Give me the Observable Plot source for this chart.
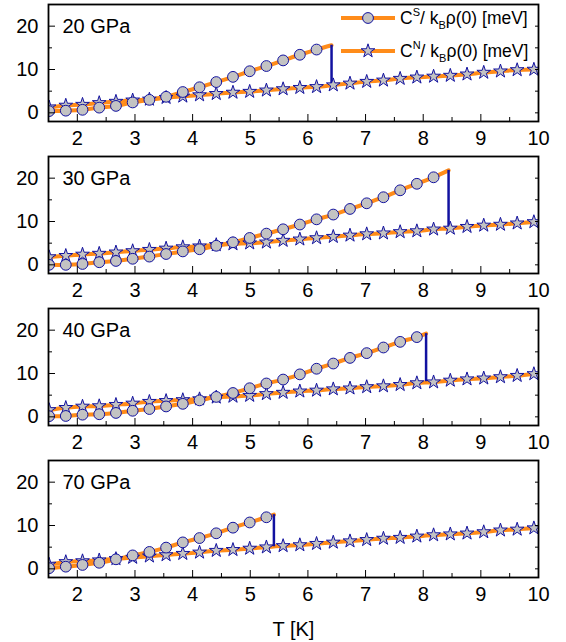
<!DOCTYPE html>
<html>
<head>
<meta charset="utf-8">
<script src="https://cdn.jsdelivr.net/npm/d3@7"></script>
<script src="https://cdn.jsdelivr.net/npm/@observablehq/plot@0.6"></script>
<style>
  html, body { margin: 0; padding: 0; background: #fff; }
  #chart { position: relative; width: 566px; height: 642px; font-family: "Liberation Sans", Arial, sans-serif; }
  #chart svg { display: block; }
  .leg { position: absolute; left: 341px; height: 24px; display: flex; align-items: center; font-size: 17.5px; color: #000; white-space: nowrap; }
  .leg svg { margin-right: 5px; }
  .sup { font-size: 11px; position: relative; top: -8px; }
  .sub { font-size: 11px; position: relative; top: 5px; }
</style>
</head>
<body>
<div id="chart"></div>
<script>
// ---- data ----
const pressures = ["20 GPa", "30 GPa", "40 GPa", "70 GPa"];
const temps = [1.51, 1.80, 2.09, 2.38, 2.67, 2.96, 3.25, 3.54, 3.83, 4.12, 4.41, 4.70, 4.99, 5.28, 5.57,
               5.86, 6.15, 6.44, 6.73, 7.02, 7.31, 7.60, 7.89, 8.18, 8.47, 8.76, 9.05, 9.34, 9.63, 9.92];

const cs20 = [0.4, 0.5, 0.7, 1.2, 1.6, 2.4, 3.0, 3.7, 4.8, 5.9, 7.1, 8.3, 9.6, 10.8, 12.1, 13.4, 14.6];
const cs30 = [0.0, 0.0, 0.2, 0.6, 0.9, 1.4, 1.9, 2.5, 3.1, 3.6, 4.4, 5.2, 6.2, 7.2, 8.2, 9.3, 10.5, 11.6, 12.9, 14.2, 15.6, 17.2, 18.7, 20.2];
const cs40 = [0.15, 0.2, 0.5, 0.6, 0.9, 1.4, 1.8, 2.4, 3.0, 3.8, 4.6, 5.5, 6.6, 7.7, 8.6, 9.8, 11.1, 12.3, 13.6, 14.7, 16.0, 17.3, 18.4];
const cs70 = [0.15, 0.5, 0.9, 1.4, 2.2, 3.1, 3.9, 4.9, 6.1, 7.1, 8.2, 9.5, 10.7, 11.9];

const cn20 = [1.3, 1.7, 1.9, 2.3, 2.6, 2.9, 3.1, 3.5, 3.8, 4.1, 4.4, 4.7, 4.9, 5.2, 5.5, 5.8, 6.0, 6.4, 6.8, 7.2, 7.5, 7.9, 8.2, 8.4, 8.6, 8.9, 9.3, 9.6, 9.9, 10.0];
const cn30 = [1.8, 2.1, 2.4, 2.6, 2.9, 3.2, 3.5, 3.8, 4.1, 4.3, 4.6, 4.8, 5.0, 5.2, 5.6, 5.9, 6.2, 6.5, 6.8, 7.1, 7.3, 7.6, 7.8, 8.2, 8.4, 8.8, 9.1, 9.3, 9.6, 9.9];
const cn40 = [1.6, 2.1, 2.4, 2.5, 2.8, 3.1, 3.5, 3.7, 3.9, 4.1, 4.5, 4.7, 4.9, 5.3, 5.6, 5.9, 6.1, 6.4, 6.6, 6.9, 7.1, 7.4, 7.8, 8.0, 8.4, 8.7, 8.9, 9.2, 9.5, 9.9];
const cn70 = [1.0, 1.6, 1.8, 2.0, 2.3, 2.6, 2.9, 3.2, 3.5, 3.8, 4.2, 4.4, 4.7, 5.0, 5.3, 5.5, 5.8, 6.1, 6.4, 6.7, 7.0, 7.2, 7.5, 7.8, 8.0, 8.2, 8.5, 8.9, 9.1, 9.4];

// transition temperature and jump ends
const tcValues = [6.41, 8.44, 8.05, 5.41];
const csAtTc = [15.6, 21.8, 19.2, 12.5];
const cnAtTc = [6.3, 8.4, 8.1, 5.1];

const xTicks = [2, 3, 4, 5, 6, 7, 8, 9, 10];
const xMinorTicks = [1.5, 2.5, 3.5, 4.5, 5.5, 6.5, 7.5, 8.5, 9.5];
const yTicks = [0, 10, 20];
const yMinorTicks = [5, 15];
const legendLabels = ["C|S|/ k|B|ρ(0) [meV]", "C|N|/ k|B|ρ(0) [meV]"];

// ---- style ----
const ORANGE = "#FF8C1A";
const NAVY = "#1212A0";
const GRAY = "#C3C3C3";

const csSeries = [cs20, cs30, cs40, cs70];
const cnSeries = [cn20, cn30, cn40, cn70];

function panel(i, last) {
  const S = csSeries[i].map((v, j) => ({T: temps[j], v}));
  const N = cnSeries[i].map((v, j) => ({T: temps[j], v}));
  const Sline = S.concat([{T: tcValues[i], v: csAtTc[i]}]);
  const jump = [{T: tcValues[i], y1: cnAtTc[i], y2: csAtTc[i]}];
  return Plot.plot({
    width: 566,
    height: last ? 186 : 152,
    marginTop: 4,
    marginLeft: 48,
    marginRight: 28,
    marginBottom: last ? 65 : 31,
    x: {domain: [1.5, 10]},
    y: {domain: [-2, 25]},
    style: {fontFamily: "'Liberation Sans', Arial, sans-serif", fontSize: "20px", color: "#000", background: "#fff", overflow: "visible"},
    marks: [
      Plot.line(N, {x: "T", y: "v", stroke: ORANGE, strokeWidth: 4, curve: "catmull-rom", clip: true}),
      Plot.line(Sline, {x: "T", y: "v", stroke: ORANGE, strokeWidth: 4, curve: "catmull-rom", clip: true}),
      Plot.ruleX(jump, {x: "T", y1: "y1", y2: "y2", stroke: NAVY, strokeWidth: 2.5}),
      Plot.dot(N, {x: "T", y: "v", symbol: "star", r: 4.3, fill: GRAY, stroke: NAVY, strokeWidth: 1, clip: true}),
      Plot.dot(S, {x: "T", y: "v", r: 5.4, fill: GRAY, stroke: NAVY, strokeWidth: 1, clip: true}),
      Plot.axisX({ticks: xTicks, tickSize: 0, tickPadding: 9, tickFormat: d => String(d),
                  label: last ? "T [K]" : null, labelAnchor: "center", labelArrow: "none", labelOffset: 58}),
      Plot.axisX({ticks: xTicks, tickSize: -7, tickFormat: () => "", label: null}),
      Plot.axisX({ticks: xMinorTicks, tickSize: -4, tickFormat: () => "", label: null}),
      Plot.axisY({ticks: yTicks, tickSize: 0, tickPadding: 10, tickFormat: d => String(d), label: null}),
      Plot.axisY({ticks: yTicks, tickSize: -7, tickFormat: () => "", label: null}),
      Plot.axisY({ticks: yMinorTicks, tickSize: -4, tickFormat: () => "", label: null}),
      Plot.axisY({anchor: "right", ticks: yTicks.concat(yMinorTicks), tickSize: -4, tickFormat: () => "", label: null}),
      Plot.frame({stroke: "#000", strokeWidth: 1.8}),
      Plot.text([pressures[i]], {frameAnchor: "top-left", text: d => d, dx: 14, dy: 22, textAnchor: "start", lineAnchor: "middle", fontSize: 20, fill: "#000"})
    ]
  });
}

const chart = document.getElementById("chart");
for (let i = 0; i < 4; i++) chart.appendChild(panel(i, i === 3));

// legend (inside top panel)
function legendRow(label, top, symbol) {
  const div = document.createElement("div");
  div.className = "leg";
  div.style.top = (top - 12) + "px";
  const w = 54;
  let sym;
  if (symbol === "circle") {
    sym = `<circle cx="${w / 2}" cy="12" r="5.4" fill="${GRAY}" stroke="${NAVY}" stroke-width="1"/>`;
  } else {
    const p = d3.symbol(d3.symbolStar, Math.PI * 4.3 * 4.3)();
    sym = `<path transform="translate(${w / 2},12)" d="${p}" fill="${GRAY}" stroke="${NAVY}" stroke-width="1"/>`;
  }
  const parts = label.split("|");
  div.innerHTML = `<svg width="${w}" height="24"><line x1="0" x2="${w}" y1="12" y2="12" stroke="${ORANGE}" stroke-width="4"/>${sym}</svg>` +
    `<span>${parts[0]}<span class="sup">${parts[1]}</span>${parts[2]}<span class="sub">${parts[3]}</span>${parts[4]}</span>`;
  chart.appendChild(div);
}
legendRow(legendLabels[0], 18, "circle");
legendRow(legendLabels[1], 51, "star");
</script>
</body>
</html>
